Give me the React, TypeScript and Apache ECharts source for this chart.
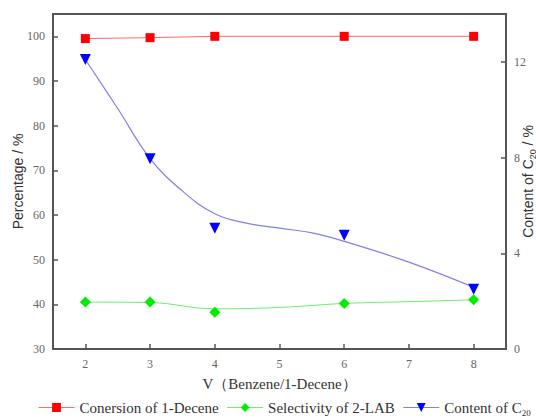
import React, { useEffect, useRef } from "react";
import * as echarts from "echarts";

const xValues = [2, 3, 4, 6, 8];
const conversion = [99.5, 99.7, 100, 100, 100];
const selectivity = [40.5, 40.5, 38.2, 40.2, 41.0];
const contentC20 = [12.1, 7.95, 5.05, 4.75, 2.5];

const selFitX = [2, 3, 4, 5, 6, 7, 8];
const selFit = [40.5, 40.4, 39.0, 39.3, 40.2, 40.6, 41.0];
const c20FitX = [2, 2.5, 3, 3.5, 4, 4.5, 5, 5.5, 6, 7, 8];
const c20Fit = [12.1, 10.05, 7.96, 6.6, 5.65, 5.25, 5.05, 4.85, 4.5, 3.63, 2.58];

const xTicks = [2, 3, 4, 5, 6, 7, 8];
const leftTicks = [30, 40, 50, 60, 70, 80, 90, 100];
const rightTicks = [0, 4, 8, 12];

const names = ["Conersion of 1-Decene", "Selectivity of 2-LAB", "Content of C20"];

const zip = (xs: number[], ys: number[]) => xs.map((x, i) => [x, ys[i]]);

const SERIF = "Liberation Serif, Times New Roman, serif";
const SANS = "Liberation Sans, Arial, sans-serif";
const AX = "#555";

export default function App() {
  const ref = useRef<HTMLDivElement>(null);
  useEffect(() => {
    if (!ref.current) return;
    const chart = echarts.init(ref.current, undefined, { renderer: "svg" });
    const axisCommon = {
      axisLine: { show: true, lineStyle: { color: AX, width: 2 } },
      axisTick: { show: true, inside: true, length: 5, lineStyle: { color: AX, width: 1.5 } },
      splitLine: { show: false },
      nameMoveOverlap: false,
    };
    chart.setOption({
      animation: false,
      backgroundColor: "#fff",
      textStyle: { fontFamily: SERIF },
      grid: {
        left: 53,
        right: 30,
        top: 14,
        bottom: 69,
        show: true,
        borderColor: AX,
        borderWidth: 2,
        outerBoundsMode: "none",
        containLabel: false,
      },
      xAxis: {
        type: "value",
        min: 1.5,
        max: 8.5,
        ...axisCommon,
        axisTick: { ...axisCommon.axisTick, customValues: xTicks },
        axisLabel: { customValues: xTicks, fontFamily: SERIF, fontSize: 12, color: "#666", margin: 9 },
        name: "V（Benzene/1-Decene）",
        nameLocation: "middle",
        nameGap: 27,
        nameTextStyle: { fontFamily: SERIF, fontSize: 15, color: "#333" },
      },
      yAxis: [
        {
          type: "value",
          min: 30,
          max: 105,
          ...axisCommon,
          axisTick: { ...axisCommon.axisTick, customValues: leftTicks },
          axisLabel: { customValues: leftTicks, fontFamily: SERIF, fontSize: 12, color: "#666", margin: 8 },
          name: "Percentage / %",
          nameLocation: "middle",
          nameGap: 28,
          nameRotate: 90,
          nameTextStyle: { fontFamily: SANS, fontSize: 14, color: "#333" },
        },
        {
          type: "value",
          min: 0,
          max: 14,
          position: "right",
          ...axisCommon,
          axisTick: { ...axisCommon.axisTick, customValues: rightTicks },
          axisLabel: { customValues: rightTicks, fontFamily: SERIF, fontSize: 12, color: "#666", margin: 8 },
          name: "Content of C{sub|20} / %",
          nameLocation: "middle",
          nameGap: 12,
          nameRotate: 90,
          nameTextStyle: {
            fontFamily: SANS,
            fontSize: 14,
            color: "#333",
            rich: { sub: { fontFamily: SANS, fontSize: 9, color: "#333", padding: [10, 0, 0, 0] } },
          },
        },
      ],
      legend: {
        left: 38,
        top: 400,
        padding: 0,
        width: 1200,
        itemWidth: 36,
        itemHeight: 11,
        itemGap: 8,
        textStyle: {
          fontFamily: SERIF,
          fontSize: 15,
          color: "#333",
          rich: { sub: { fontFamily: SERIF, fontSize: 9, color: "#333", padding: [10, 0, 0, 0] } },
        },
        formatter: (n: string) => (n === names[2] ? "Content of C{sub|20}" : n),
        data: [
          { name: names[0], lineStyle: { color: "#ff6a6a", width: 1, opacity: 1 } },
          { name: names[1], lineStyle: { color: "#6aee6a", width: 1, opacity: 1 } },
          { name: names[2], lineStyle: { color: "#8080e8", width: 1, opacity: 1 } },
        ],
      },
      series: [
        {
          name: "conv-line",
          type: "line",
          yAxisIndex: 0,
          data: zip(xValues, conversion),
          showSymbol: false,
          lineStyle: { color: "#ff6a6a", width: 1 },
          z: 2,
        },
        {
          name: "sel-line",
          type: "line",
          yAxisIndex: 0,
          smooth: 0.4,
          data: zip(selFitX, selFit),
          showSymbol: false,
          lineStyle: { color: "#6aee6a", width: 1 },
          z: 2,
        },
        {
          name: "c20-line",
          type: "line",
          yAxisIndex: 1,
          smooth: 0.4,
          data: zip(c20FitX, c20Fit),
          showSymbol: false,
          lineStyle: { color: "#8080e8", width: 1.2 },
          z: 2,
        },
        {
          name: names[0],
          type: "line",
          yAxisIndex: 0,
          data: zip(xValues, conversion),
          symbol: "rect",
          symbolSize: 9,
          itemStyle: { color: "#ff0000" },
          lineStyle: { opacity: 0 },
          z: 3,
        },
        {
          name: names[1],
          type: "line",
          yAxisIndex: 0,
          data: zip(xValues, selectivity),
          symbol: "diamond",
          symbolSize: 11,
          itemStyle: { color: "#00ee00" },
          lineStyle: { opacity: 0 },
          z: 3,
        },
        {
          name: names[2],
          type: "line",
          yAxisIndex: 1,
          data: zip(xValues, contentC20),
          symbol: "triangle",
          symbolRotate: 180,
          symbolSize: 11,
          itemStyle: { color: "#0000ff" },
          lineStyle: { opacity: 0 },
          z: 3,
        },
      ],
    });
    return () => chart.dispose();
  }, []);
  return <div ref={ref} style={{ position: "fixed", left: 0, top: 0, width: 536, height: 418 }} />;
}
